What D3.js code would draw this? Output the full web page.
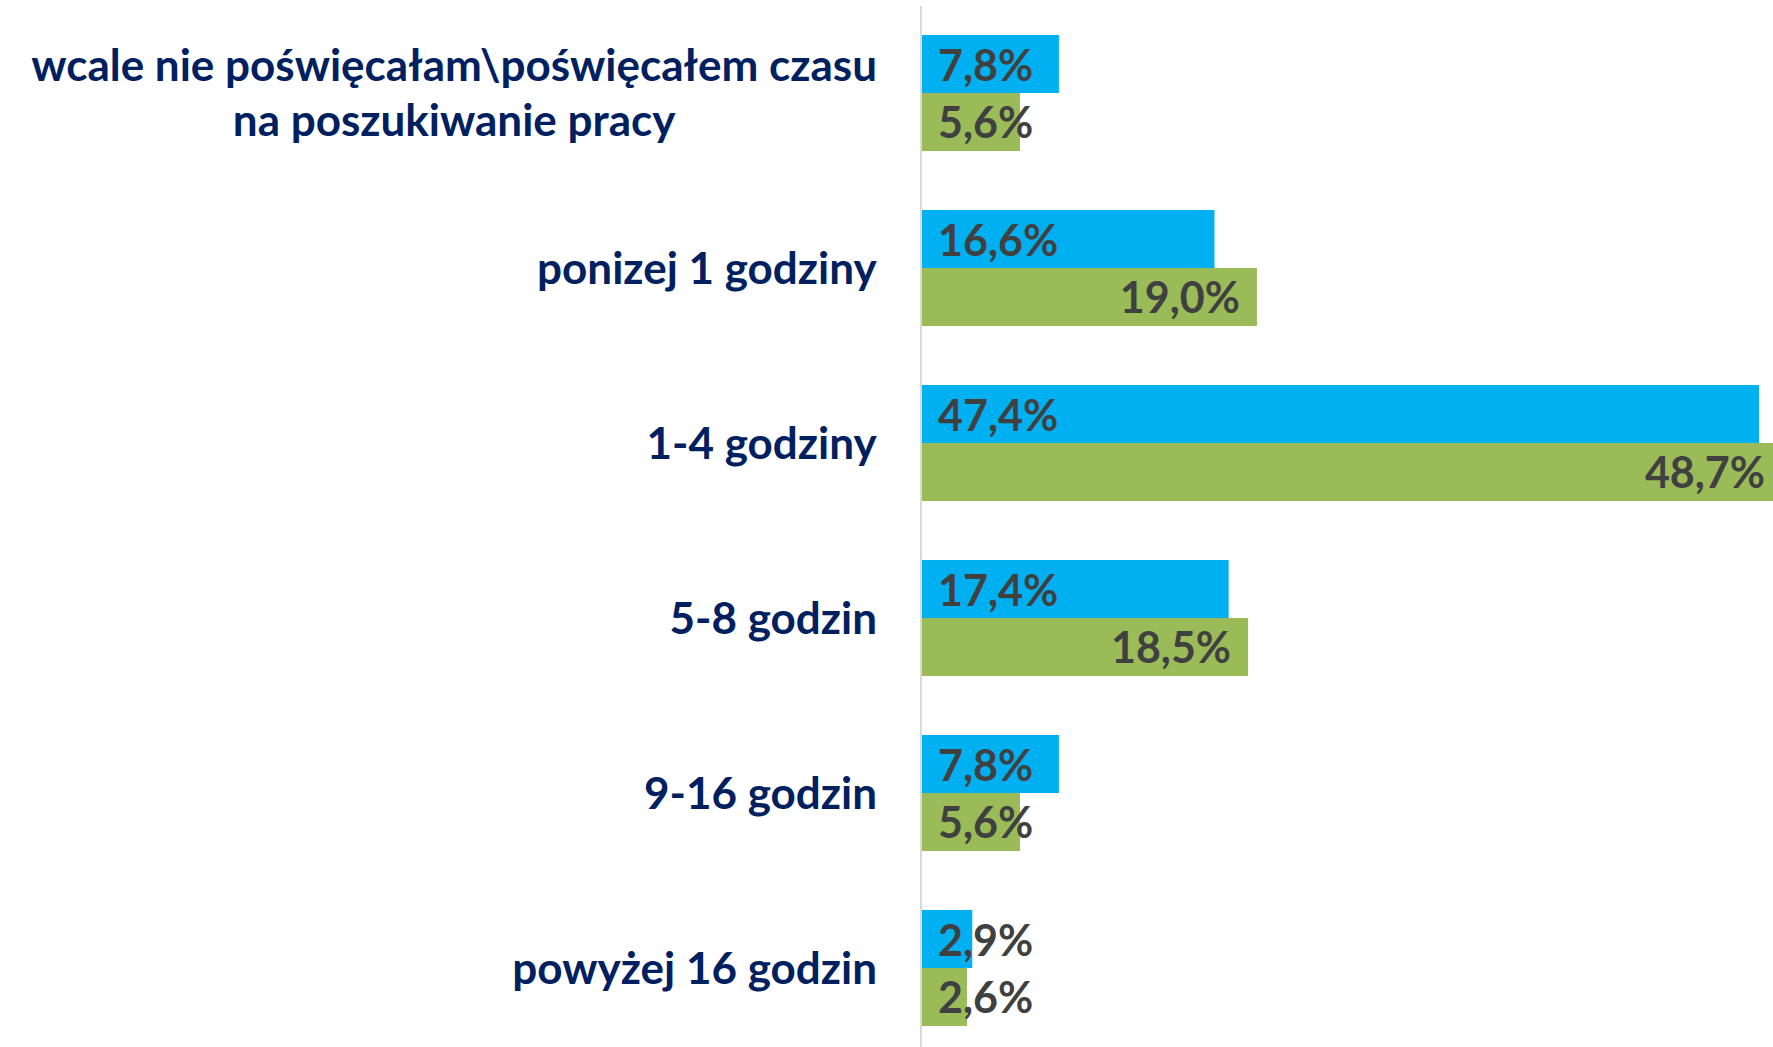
<html lang="pl">

<head>
  <meta charset="utf-8">
  <title>Czas poszukiwania pracy</title>
  <script type="text/javascript" src="https://d3js.org/d3.v7.min.js"></script>
  <style>
    body { margin: 0; background: #fff; }
    text { font-family: Lato, "Open Sans", sans-serif; font-weight: bold; }
  </style>
</head>

<body>
  <script type="text/javascript">
    const width = 1773;
    const height = 1047;

    // categories (top to bottom), first entry split into lines
    const categories = [
      "wcale nie poświęcałam\\poświęcałem czasu\nna poszukiwanie pracy",
      "ponizej 1 godziny",
      "1-4 godziny",
      "5-8 godzin",
      "9-16 godzin",
      "powyżej 16 godzin"
    ];
    const seriesA = [7.8, 16.6, 47.4, 17.4, 7.8, 2.9];
    const seriesB = [5.6, 19.0, 48.7, 18.5, 5.6, 2.6];

    const svg = d3.select("body").append("svg").attr("width", width).attr("height", height);

    const x0 = 921;
    const xScale = d3.scaleLinear().domain([0, 50]).range([x0, x0 + 884]);
    const yScale = d3.scaleBand()
      .domain(categories)
      .range([5.5, 1055.5])
      .paddingInner(0.337)
      .paddingOuter(0.1685);
    const ySub = d3.scaleBand().domain(["a", "b"]).range([0, yScale.bandwidth()]);

    const fmt = v => v.toFixed(1).replace(".", ",") + "%";

    const groups = svg.selectAll("g.grp")
      .data(categories.map((c, i) => ({ c: c, a: seriesA[i], b: seriesB[i] })))
      .enter()
      .append("g")
      .attr("class", "grp")
      .attr("transform", d => "translate(0," + yScale(d.c) + ")");

    groups.append("rect")
      .attr("x", x0)
      .attr("y", ySub("a"))
      .attr("width", d => xScale(d.a) - x0)
      .attr("height", ySub.bandwidth())
      .attr("fill", "#00B0F0");
    groups.append("rect")
      .attr("x", x0)
      .attr("y", ySub("b"))
      .attr("width", d => xScale(d.b) - x0)
      .attr("height", ySub.bandwidth())
      .attr("fill", "#9BBB59");

    // axis line
    svg.append("line")
      .attr("x1", x0).attr("x2", x0)
      .attr("y1", 6).attr("y2", height)
      .attr("stroke", "#D9D9D9")
      .attr("stroke-width", 2);

    // blue labels: inside base
    groups.append("text")
      .attr("x", x0 + 17)
      .attr("y", ySub("a") + ySub.bandwidth() / 2)
      .attr("dy", "0.4em")
      .attr("font-size", 43)
      .attr("fill", "#404040")
      .text(d => fmt(d.a));

    // green labels: inside end, pushed right when bar too short
    groups.append("text")
      .attr("y", ySub("b") + ySub.bandwidth() / 2)
      .attr("dy", "0.37em")
      .attr("font-size", 43)
      .attr("fill", "#404040")
      .attr("text-anchor", "end")
      .text(d => fmt(d.b))
      .attr("x", function(d) {
        const w = this.getComputedTextLength();
        return Math.max(xScale(d.b) - 17, x0 + 17 + w);
      });

    // category labels
    const labelRight = 877;
    groups.append("text")
      .attr("font-size", 44)
      .attr("fill", "#002060")
      .attr("text-anchor", "middle")
      .each(function(d) {
        const lines = d.c.split("\n");
        const t = d3.select(this);
        const mid = yScale.bandwidth() / 2;
        lines.forEach((l, i) => {
          t.append("tspan")
            .attr("x", 0)
            .attr("y", mid + (i - (lines.length - 1) / 2) * 55)
            .attr("dy", "0.36em")
            .text(l);
        });
        const w = this.getBBox().width;
        t.selectAll("tspan").attr("x", labelRight - w / 2);
      });
  </script>
</body>

</html>
